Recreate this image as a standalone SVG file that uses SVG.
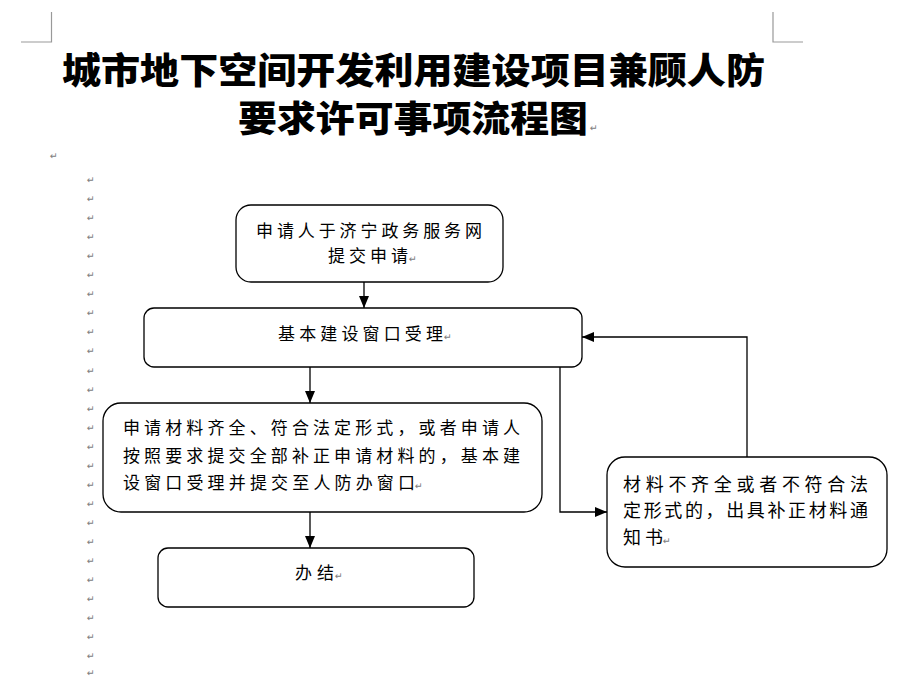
<svg xmlns="http://www.w3.org/2000/svg" width="913" height="678" viewBox="0 0 913 678">
<style>
.box{fill:#fff;stroke:#000;stroke-width:1.3}
.t{font-family:"Noto Sans CJK SC","Noto Sans",sans-serif;font-size:17px;fill:#000}
.t4{font-family:"Noto Sans CJK SC","Noto Sans",sans-serif;font-size:18px;fill:#000}
.title{font-family:"Noto Sans CJK SC","Noto Sans",sans-serif;font-size:36px;font-weight:900;fill:#000}
.pm{font-family:"DejaVu Sans",sans-serif;font-size:9.5px;fill:#808080}
.crop{stroke:#999;stroke-width:1.2;fill:none}
.conn{stroke:#000;stroke-width:1.3;fill:none}
</style>
<defs>
<marker id="ah" markerUnits="userSpaceOnUse" markerWidth="12" markerHeight="12" viewBox="0 0 12 12" refX="12" refY="6" orient="auto">
<path d="M0,1 L12,6 L0,11 Z" fill="#000"/>
</marker>
</defs>
<rect width="913" height="678" fill="#fff"/>
<g id="cropmarks">
<path class="crop" d="M51.5 12 V42 H21"/>
<path class="crop" d="M773 12 V42 H803"/>
</g>
<g id="title">
<text class="title" x="62" y="84" textLength="703" lengthAdjust="spacingAndGlyphs">城市地下空间开发利用建设项目兼顾人防</text>
<text class="title" x="238" y="132" textLength="350" lengthAdjust="spacingAndGlyphs">要求许可事项流程图</text>
<text class="pm" x="590" y="131">↵</text>
<text class="pm" x="50" y="159">↵</text>
</g>
<g id="paragraph-marks">
<text class="pm" x="87" y="183">↵</text>
<text class="pm" x="87" y="202">↵</text>
<text class="pm" x="87" y="221">↵</text>
<text class="pm" x="87" y="240">↵</text>
<text class="pm" x="87" y="259">↵</text>
<text class="pm" x="87" y="278">↵</text>
<text class="pm" x="87" y="297">↵</text>
<text class="pm" x="87" y="316">↵</text>
<text class="pm" x="87" y="335">↵</text>
<text class="pm" x="87" y="354">↵</text>
<text class="pm" x="87" y="374">↵</text>
<text class="pm" x="87" y="393">↵</text>
<text class="pm" x="87" y="412">↵</text>
<text class="pm" x="87" y="431">↵</text>
<text class="pm" x="87" y="450">↵</text>
<text class="pm" x="87" y="469">↵</text>
<text class="pm" x="87" y="488">↵</text>
<text class="pm" x="87" y="507">↵</text>
<text class="pm" x="87" y="526">↵</text>
<text class="pm" x="87" y="545">↵</text>
<text class="pm" x="87" y="564">↵</text>
<text class="pm" x="87" y="583">↵</text>
<text class="pm" x="87" y="602">↵</text>
<text class="pm" x="87" y="621">↵</text>
<text class="pm" x="87" y="640">↵</text>
<text class="pm" x="87" y="659">↵</text>
<text class="pm" x="87" y="676">↵</text>
</g>
<g id="connectors">
<path class="conn" d="M364 282 V308" marker-end="url(#ah)"/>
<path class="conn" d="M310 367 V403" marker-end="url(#ah)"/>
<path class="conn" d="M310 512 V548" marker-end="url(#ah)"/>
<path class="conn" d="M560 367 V512 H607" marker-end="url(#ah)"/>
<path class="conn" d="M747 457 V337 H582" marker-end="url(#ah)"/>
</g>
<g id="n1">
<rect class="box" x="236" y="205" width="267" height="77" rx="15"/>
<text class="t" x="256" y="237" textLength="226" lengthAdjust="spacing">申请人于济宁政务服务网</text>
<text class="t" x="328" y="262" textLength="80" lengthAdjust="spacing">提交申请</text>
<text class="pm" x="409" y="262">↵</text>
</g>
<g id="n2">
<rect class="box" x="144" y="308" width="438" height="59" rx="10"/>
<text class="t" x="278" y="340" textLength="165" lengthAdjust="spacing">基本建设窗口受理</text>
<text class="pm" x="444" y="340">↵</text>
</g>
<g id="n3">
<rect class="box" x="103" y="403" width="439" height="109" rx="18"/>
<text class="t" x="123" y="434" textLength="397" lengthAdjust="spacing">申请材料齐全、符合法定形式，或者申请人</text>
<text class="t" x="123" y="462" textLength="397" lengthAdjust="spacing">按照要求提交全部补正申请材料的，基本建</text>
<text class="t" x="123" y="489" textLength="292" lengthAdjust="spacing">设窗口受理并提交至人防办窗口</text>
<text class="pm" x="415" y="489">↵</text>
</g>
<g id="n4">
<rect class="box" x="607" y="457" width="280" height="110" rx="18"/>
<text class="t4" x="623" y="491" textLength="245" lengthAdjust="spacing">材料不齐全或者不符合法</text>
<text class="t4" x="623" y="517" textLength="245" lengthAdjust="spacing">定形式的，出具补正材料通</text>
<text class="t4" x="623" y="544" textLength="40" lengthAdjust="spacing">知书</text>
<text class="pm" x="663" y="544">↵</text>
</g>
<g id="n5">
<rect class="box" x="158" y="548" width="316" height="59" rx="10"/>
<text class="t" x="295" y="579" textLength="39" lengthAdjust="spacing">办结</text>
<text class="pm" x="335" y="579">↵</text>
</g>
</svg>
